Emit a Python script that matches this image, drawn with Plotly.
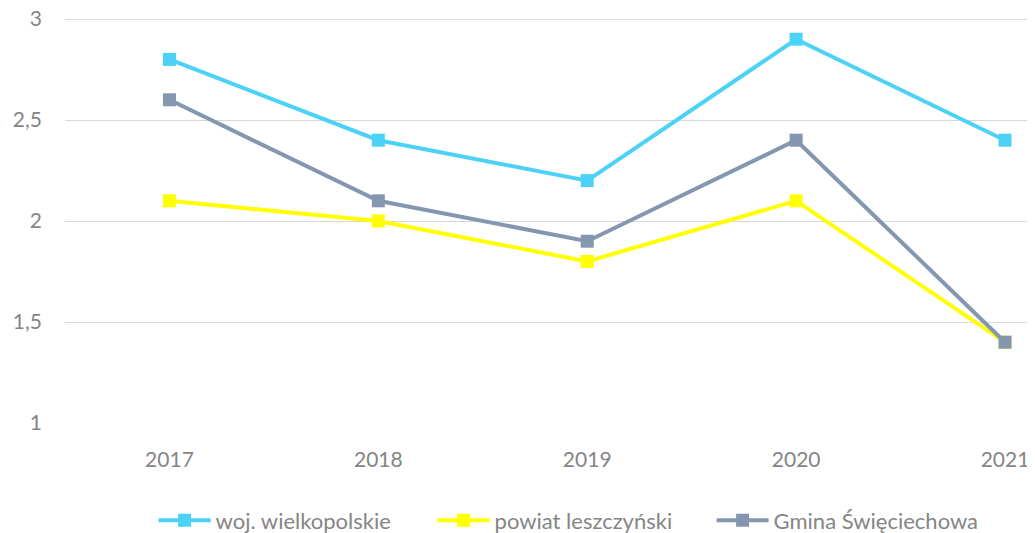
import plotly.graph_objects as go

# --------------------------------------------------------
# Data
# --------------------------------------------------------

years = ["2017", "2018", "2019", "2020", "2021"]

woj_wielkopolskie = [2.8, 2.4, 2.2, 2.9, 2.4]

powiat_leszczynski = [2.1, 2.0, 1.8, 2.1, 1.4]

gmina_swieciechowa = [2.6, 2.1, 1.9, 2.4, 1.4]

y_ticks = [1, 1.5, 2, 2.5, 3]

series = [
    ("woj. wielkopolskie", woj_wielkopolskie, "#4dd2f7"),
    ("powiat leszczyński", powiat_leszczynski, "#ffff00"),
    ("Gmina Święciechowa", gmina_swieciechowa, "#8496b0"),
]


# --------------------------------------------------------
# Chart
# --------------------------------------------------------

fig = go.Figure()

for name, values, color in series:

    fig.add_trace(

        go.Scatter(

            x=years,

            y=values,

            name=name,

            mode="lines+markers",

            line=dict(color=color, width=4),

            marker=dict(symbol="square", size=13, color=color)

        )

    )

# the page body adds an 8px margin, so the figure is a bit smaller
fig.update_layout(

    width=1027,

    height=525,

    separators=", ",

    paper_bgcolor="white",

    plot_bgcolor="white",

    font=dict(family="Lato", size=21, color="#858585"),

    margin=dict(l=57, r=7, t=9, b=110, autoexpand=False),

    showlegend=True,

    legend=dict(

        orientation="h",

        x=0.092,

        xanchor="left",

        y=-0.24,

        yanchor="middle",

        font=dict(size=22, color="#858585"),

        itemwidth=52,

        entrywidth=212,

        entrywidthmode="pixels",

        tracegroupgap=0

    )

)

fig.update_xaxes(

    type="category",

    range=[-0.5, 4.11],

    automargin=False,

    showgrid=False,

    showline=False,

    zeroline=False,

    ticks="",

    ticklabelstandoff=22

)

# top of range nudged up so the gridline at 3 is still drawn
fig.update_yaxes(

    range=[1, 3.01],

    tickvals=y_ticks,

    automargin=False,

    ticklabeloverflow="allow",

    showgrid=True,

    gridcolor="#d9d9d9",

    gridwidth=1,

    zeroline=False,

    showline=False,

    ticks="",

    ticklabelstandoff=22

)

fig.write_html("out.html")
